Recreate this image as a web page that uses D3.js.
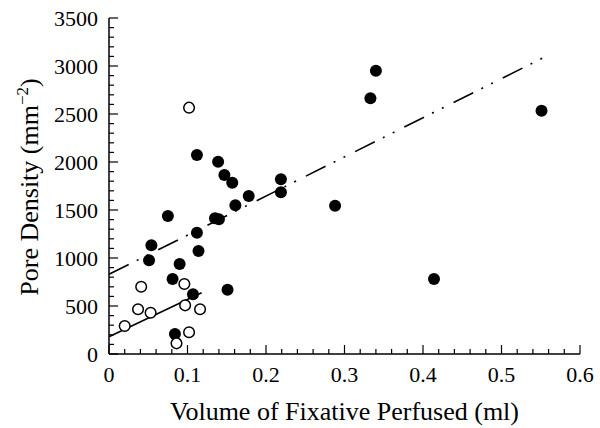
<!DOCTYPE html>
<html><head><meta charset="utf-8">
<script src="https://cdn.jsdelivr.net/npm/d3@7"></script>
<style>body{margin:0;background:#fff}svg{display:block}</style>
</head><body><svg id="c" width="600" height="428"></svg>
<script>
// Filled circles: [volume ml, pore density]
const filledX = [0.075,0.112,0.054,0.114,0.051,0.090,0.081,0.107,0.151,0.084,0.135,0.140,0.161,0.178,0.219,0.219,0.157,0.147,0.139,0.112,0.288,0.340,0.333,0.551,0.414];
const filledY = [1438,1264,1132,1073,976,937,781,622,670,208,1414,1403,1549,1646,1684,1820,1784,1865,2003,2073,1545,2951,2664,2534,781];
// Open circles
const openX = [0.041,0.096,0.037,0.053,0.097,0.116,0.020,0.102,0.086,0.102];
const openY = [701,729,466,430,507,466,292,226,111,2566];
// Regression lines: endpoints [x, y]
const solidLine = [[0,180],[0.118,639]];
const dashLine = [[0,830],[0.5545,3091]];
const xTicks = [0,0.1,0.2,0.3,0.4,0.5,0.6];
const yTicks = [0,500,1000,1500,2000,2500,3000,3500];

const FONT = '"Liberation Serif"';
const svg = d3.select("#c");
const x = d3.scaleLinear().domain([0,0.6]).range([109,580]);
const y = d3.scaleLinear().domain([0,3500]).range([354,18]);

const xMinor = d3.range(0,0.6001,0.02).map(v=>+v.toFixed(2));
const yMinor = d3.range(0,3501,100);

const gx = svg.append("g").attr("transform","translate(0,354)");
gx.append("line").attr("x1",109).attr("x2",580).attr("stroke","#000").attr("stroke-width",1.5);
gx.selectAll("line.mn").data(xMinor).enter().append("line").attr("class","mn")
  .attr("x1",d=>x(d)).attr("x2",d=>x(d)).attr("y1",0)
  .attr("y2",d=>xTicks.some(t=>Math.abs(t-d)<1e-6)?-9:-5).attr("stroke","#000").attr("stroke-width",1.2);
gx.selectAll("text").data(xTicks).enter().append("text")
  .attr("x",d=>x(d)).attr("y",28).attr("text-anchor","middle").style("font-family",FONT).style("font-size","22px")
  .text(d=>d===0?"0":d3.format(".1f")(d));

const gy = svg.append("g").attr("transform","translate(109,0)");
gy.append("line").attr("y1",354).attr("y2",18).attr("stroke","#000").attr("stroke-width",1.5);
gy.selectAll("line.mn").data(yMinor).enter().append("line").attr("class","mn")
  .attr("y1",d=>y(d)).attr("y2",d=>y(d)).attr("x1",0)
  .attr("x2",d=>d%500===0?9:5).attr("stroke","#000").attr("stroke-width",1.2);
gy.selectAll("text").data(yTicks).enter().append("text")
  .attr("x",-11).attr("y",d=>y(d)+7.5).attr("text-anchor","end").style("font-family",FONT).style("font-size","22px")
  .text(d=>d);

// axis titles
svg.append("text").attr("x",344.5).attr("y",420).attr("text-anchor","middle").style("font-family",FONT).style("font-size","26px")
  .text("Volume of Fixative Perfused (ml)");
const yt = svg.append("text").attr("transform","translate(38,187) rotate(-90)").attr("text-anchor","middle").style("font-family",FONT).style("font-size","26px");
yt.append("tspan").text("Pore Density (mm");
yt.append("tspan").attr("dy",-10).style("font-size","17px").text("\u22122");
yt.append("tspan").attr("dy",10).text(")");

// lines
const ln = d3.line().x(d=>x(d[0])).y(d=>y(d[1]));
svg.append("path").attr("d",ln(solidLine)).attr("fill","none").attr("stroke","#000").attr("stroke-width",1.6);
svg.append("path").attr("d",ln(dashLine)).attr("fill","none").attr("stroke","#000").attr("stroke-width",1.6)
  .attr("stroke-dasharray","22,9,2,9,2,11");

// points
const filled = filledX.map((v,i)=>[v,filledY[i]]);
const open = openX.map((v,i)=>[v,openY[i]]);
svg.selectAll("circle.f").data(filled).enter().append("circle").attr("class","f")
  .attr("cx",d=>x(d[0])).attr("cy",d=>y(d[1])).attr("r",6).attr("fill","#000");
svg.selectAll("circle.o").data(open).enter().append("circle").attr("class","o")
  .attr("cx",d=>x(d[0])).attr("cy",d=>y(d[1])).attr("r",5.3).attr("fill","#fff").attr("stroke","#000").attr("stroke-width",1.5);
</script></body></html>
